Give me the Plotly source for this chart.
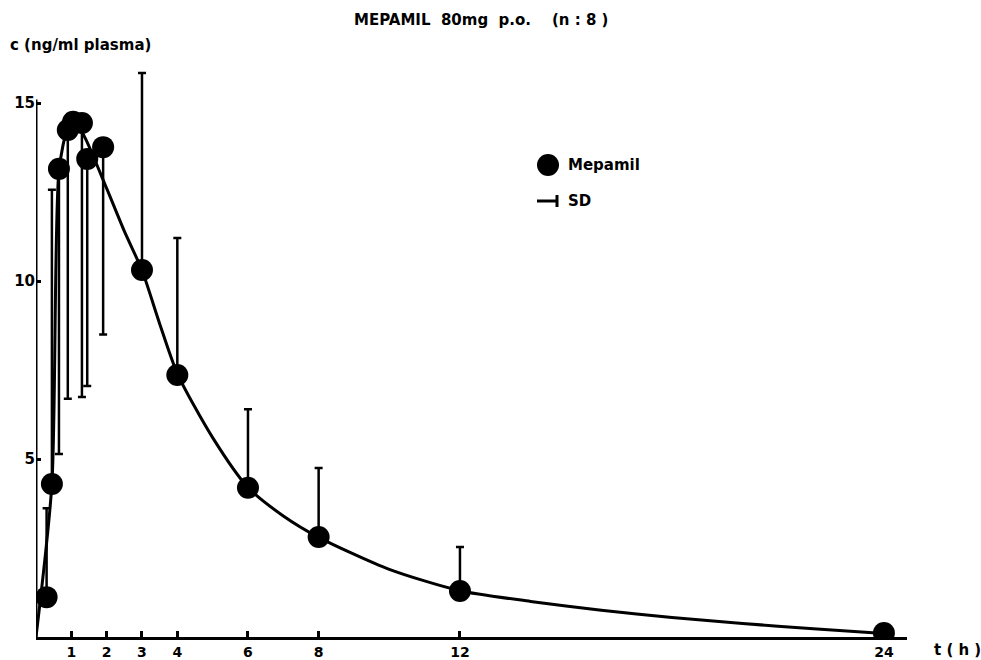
import plotly.graph_objects as go

# ---- data ----
t_h = [0.3, 0.45, 0.65, 0.9, 1.05, 1.3, 1.45, 1.9, 3, 4, 6, 8, 12, 24]
conc = [1.12, 4.3, 13.15, 14.24, 14.47, 14.44, 13.43, 13.76, 10.31, 7.36, 4.19, 2.81, 1.29, 0.11]
sd_up = [2.5, 8.26, 0, 0, 0, 0, 0, 0, 5.53, 3.85, 2.21, 1.94, 1.24, 0]
sd_down = [0, 0, 8.01, 7.55, 0, 7.70, 6.38, 5.26, 0, 0, 0, 0, 0, 0]

fit_t = [0, 0.45, 0.65, 0.9, 1.1, 1.4, 2, 2.5, 3, 3.5, 4, 5, 6, 7, 8, 10, 12, 14, 16, 18, 20, 22, 24]
fit_c = [0, 4.3, 13.1, 14.3, 14.5, 14.0, 12.6, 11.4, 10.3, 8.8, 7.4, 5.6, 4.2, 3.4, 2.8, 1.9, 1.3, 1.0, 0.75, 0.55, 0.38, 0.23, 0.1]

x_tickvals = [1, 2, 3, 4, 6, 8, 12, 24]
x_ticktext = ["1", "2", "3", "4", "6", "8", "12", "24"]
y_tickvals = [5, 10, 15]
y_ticktext = ["5", "10", "15"]

# ---- layout geometry ----
W, H = 981, 660
L, R, T, B = 36, 74, 60, 23
PW, PH = W - L - R, H - T - B


def px(x):
    return (x - L) / PW


def py(y):
    return (H - B - y) / PH


FONT = "DejaVu Sans"
fig = go.Figure()

fig.add_trace(go.Scatter(
    x=fit_t, y=fit_c, mode="lines",
    line=dict(color="black", width=3, shape="spline", smoothing=0.7),
    hoverinfo="skip", showlegend=False,
))

fig.add_trace(go.Scatter(
    x=t_h, y=conc, mode="markers",
    marker=dict(color="black", size=22),
    error_y=dict(type="data", symmetric=False, array=sd_up, arrayminus=sd_down,
                 color="black", thickness=2.5, width=4),
    showlegend=False, name="Mepamil",
))

shapes = [
    # y axis line (0..15)
    dict(type="line", xref="x", yref="y", x0=0, x1=0, y0=0, y1=15.1,
         line=dict(color="black", width=3)),
    # legend circle
    dict(type="circle", xref="paper", yref="paper",
         x0=px(537), x1=px(559), y0=py(176), y1=py(154),
         fillcolor="black", line=dict(color="black", width=0)),
    # legend SD symbol
    dict(type="line", xref="paper", yref="paper", x0=px(537), x1=px(557),
         y0=py(201), y1=py(201), line=dict(color="black", width=3)),
    dict(type="line", xref="paper", yref="paper", x0=px(557), x1=px(557),
         y0=py(195), y1=py(207), line=dict(color="black", width=3)),
]

ann_font = dict(family=FONT, size=15, color="black", weight="bold")
annotations = [
    dict(text="MEPAMIL\u00a0\u00a080mg\u00a0\u00a0p.o.\u00a0\u00a0\u00a0\u00a0(n\u00a0:\u00a08\u00a0)",
         xref="paper", yref="paper", x=px(352), y=py(20), xanchor="left", yanchor="middle",
         showarrow=False, font=ann_font),
    dict(text="c\u00a0(ng/ml\u00a0plasma)", xref="paper", yref="paper", x=px(8), y=py(45),
         xanchor="left", yanchor="middle", showarrow=False, font=ann_font),
    dict(text="t\u00a0(\u00a0h\u00a0)", xref="paper", yref="paper", x=px(932), y=py(650),
         xanchor="left", yanchor="middle", showarrow=False, font=ann_font),
    dict(text="Mepamil", xref="paper", yref="paper", x=px(566), y=py(165),
         xanchor="left", yanchor="middle", showarrow=False, font=ann_font),
    dict(text="SD", xref="paper", yref="paper", x=px(566), y=py(201),
         xanchor="left", yanchor="middle", showarrow=False, font=ann_font),
]

fig.update_layout(
    width=W, height=H,
    margin=dict(l=L, r=R, t=T, b=B, pad=0, autoexpand=False),
    paper_bgcolor="white", plot_bgcolor="white",
    shapes=shapes, annotations=annotations,
    xaxis=dict(range=[0, PW / 35.33], showgrid=False, zeroline=False, automargin=False,
               showline=True, linecolor="black", linewidth=3,
               tickmode="array", tickvals=x_tickvals, ticktext=x_ticktext,
               ticks="inside", ticklen=6, tickwidth=3, tickcolor="black",
               tickfont=dict(family=FONT, size=14, color="black", weight="bold"),
               ticklabelstandoff=0),
    yaxis=dict(range=[0, PH / 35.6], showgrid=False, zeroline=False, showline=False,
               automargin=False,
               tickmode="array", tickvals=y_tickvals, ticktext=y_ticktext,
               ticks="inside", ticklen=5, tickwidth=3, tickcolor="black",
               tickfont=dict(family=FONT, size=15, color="black", weight="bold")),
)

fig.write_html("out.html", config={"displayModeBar": False},
               post_script="document.body.style.margin='0';document.body.style.padding='0';")
